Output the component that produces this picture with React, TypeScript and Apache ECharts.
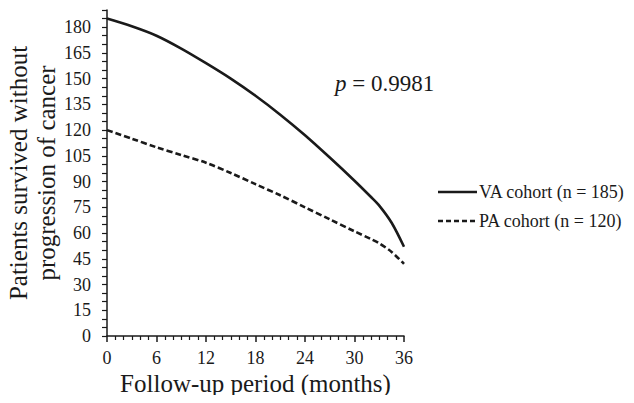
import React, { useEffect, useRef } from "react";
import * as echarts from "echarts";

const months = [0, 3, 6, 9, 12, 15, 18, 21, 24, 27, 30, 32, 33, 34.5, 36];
const vaValues = [185, 180.5, 175, 167.5, 159, 150, 140, 129, 117, 104, 90.5, 81, 76, 66, 52];
const paValues = [120, 115, 110, 105.5, 101, 95, 88.5, 82, 75, 68, 61, 56.5, 54, 49, 42];
const seriesNames = ["VA cohort (n = 185)", "PA cohort (n = 120)"];
const xTicks = [0, 6, 12, 18, 24, 30, 36];
const yTickLabels = [0, 15, 30, 45, 60, 75, 90, 105, 120, 135, 150, 165, 180];
const pText = "0.9981";

const FONT = "Liberation Serif";
const INK = "#1a1a1a";

export default function App() {
  const ref = useRef<HTMLDivElement>(null);
  useEffect(() => {
    if (!ref.current) return;
    const chart = echarts.init(ref.current, undefined, { renderer: "svg" });
    const toPairs = (vals: number[]) => months.map((m, i) => [m, vals[i]]);
    const legendTop = [192, 221];
    const legendGraphics: any[] = [];
    seriesNames.forEach((name, i) => {
      legendGraphics.push({
        type: "line",
        shape: { x1: 438, y1: legendTop[i], x2: 477, y2: legendTop[i] },
        style: { stroke: INK, lineWidth: 2.4, lineDash: i === 1 ? [5, 3] : null },
      });
      legendGraphics.push({
        type: "text",
        x: 479,
        y: legendTop[i],
        style: {
          text: name,
          fontFamily: FONT,
          fontSize: 18,
          fill: INK,
          verticalAlign: "middle",
          align: "left",
        },
      });
    });
    chart.setOption({
      animation: false,
      backgroundColor: "#fff",
      textStyle: { fontFamily: FONT, color: INK },
      grid: { left: 107, right: 230, top: 10, bottom: 67, containLabel: false },
      xAxis: {
        type: "value",
        min: xTicks[0],
        max: xTicks[xTicks.length - 1],
        interval: 6,
        name: "Follow-up period (months)",
        nameLocation: "middle",
        nameGap: 35,
        nameMoveOverlap: false,
        nameTextStyle: { fontFamily: FONT, fontSize: 25, color: INK, verticalAlign: "top" },
        axisLine: { onZero: false, lineStyle: { color: INK, width: 1.5 } },
        axisTick: { show: true, length: 6, lineStyle: { color: INK, width: 1.5 } },
        minorTick: { show: true, splitNumber: 6, length: 4, lineStyle: { color: INK, width: 1.2 } },
        axisLabel: { fontFamily: FONT, fontSize: 18, color: INK, margin: 13 },
        splitLine: { show: false },
        minorSplitLine: { show: false },
      },
      yAxis: {
        type: "value",
        min: 0,
        max: 190,
        interval: 5,
        name: "Patients survived without\nprogression of cancer",
        nameLocation: "middle",
        nameGap: 45,
        nameTextStyle: { fontFamily: FONT, fontSize: 25, color: INK, lineHeight: 28 },
        axisLine: { lineStyle: { color: INK, width: 1.5 } },
        axisTick: { show: true, length: 5, lineStyle: { color: INK, width: 1.2 } },
        axisLabel: {
          fontFamily: FONT,
          fontSize: 18,
          color: INK,
          margin: 16,
          formatter: (v: number) => (yTickLabels.includes(v) ? String(v) : ""),
        },
        splitLine: { show: false },
      },
      series: [
        {
          name: seriesNames[0],
          type: "line",
          data: toPairs(vaValues),
          smooth: 0.3,
          symbol: "none",
          lineStyle: { color: INK, width: 2.6, type: "solid" },
          itemStyle: { color: INK },
        },
        {
          name: seriesNames[1],
          type: "line",
          data: toPairs(paValues),
          smooth: 0.3,
          symbol: "none",
          lineStyle: { color: INK, width: 2.6, type: [6, 3] },
          itemStyle: { color: INK },
        },
      ],
      graphic: [
        ...legendGraphics,
        {
          type: "text",
          x: 335,
          y: 83,
          style: {
            text: "{i|p} = " + pText,
            fontFamily: FONT,
            fontSize: 23,
            fill: INK,
            verticalAlign: "middle",
            rich: {
              i: { fontStyle: "italic", fontFamily: FONT, fontSize: 23, fill: INK },
            },
          },
        },
      ],
    });
    return () => chart.dispose();
  }, []);
  return <div ref={ref} style={{ width: 634, height: 403, margin: -8 }} />;
}
